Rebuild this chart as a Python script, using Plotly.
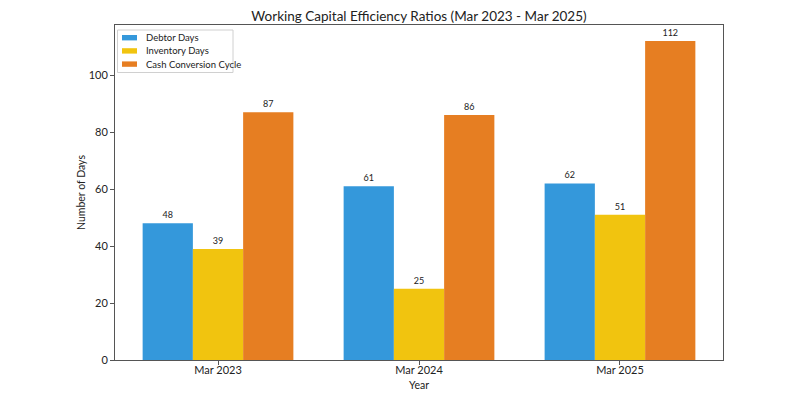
import plotly.graph_objects as go

years = ["Mar 2023", "Mar 2024", "Mar 2025"]
debtor_days = [48, 61, 62]
inventory_days = [39, 25, 51]
ccc_days = [87, 86, 112]

series = [
    ("Debtor Days", debtor_days, "#3498db"),
    ("Inventory Days", inventory_days, "#f1c40f"),
    ("Cash Conversion Cycle", ccc_days, "#e67e22"),
]

fig = go.Figure()
for name, vals, color in series:
    fig.add_trace(go.Bar(
        x=list(range(len(years))), y=vals, name=name,
        marker=dict(color=color, line=dict(width=0)),
        text=[str(v) for v in vals], textposition="outside",
        textfont=dict(size=9, color="#222"), cliponaxis=False,
        showlegend=False,
    ))

font = "Lato, Roboto, sans-serif"
fig.update_layout(
    width=800, height=400,
    margin=dict(l=115, r=77, t=25, b=40, autoexpand=False),
    paper_bgcolor="white", plot_bgcolor="white",
    font=dict(family=font, color="#222"),
    barmode="group", bargap=0.25, bargroupgap=0,
    title=dict(text="Working Capital Efficiency Ratios (Mar 2023 - Mar 2025)",
               x=0.5, xref="paper", xanchor="center", y=0.96, yref="container",
               yanchor="middle", font=dict(size=13.5, color="#222")),
)

# compact legend box drawn in paper coordinates (matplotlib-style)
PW, PH = 800 - 115 - 77, 400 - 25 - 40
def px(x):
    return (x - 115) / PW
def py(y):
    return 1 - (y - 25) / PH

fig.add_shape(type="rect", xref="paper", yref="paper",
              x0=px(117.5), x1=px(233), y0=py(30), y1=py(72.5),
              line=dict(color="#d0d0d0", width=1), fillcolor="white", layer="above")
for i, (name, vals, color) in enumerate(series):
    cy = 37.7 + i * 13.2
    fig.add_shape(type="rect", xref="paper", yref="paper",
                  x0=px(122), x1=px(137), y0=py(cy - 2.7), y1=py(cy + 2.7),
                  line=dict(width=0), fillcolor=color, layer="above")
    fig.add_annotation(x=px(144), y=py(cy), xref="paper", yref="paper",
                       text=name, showarrow=False, xanchor="left", yanchor="middle",
                       font=dict(size=9.5, color="#222"))

fig.update_xaxes(
    range=[-0.5125, 2.5125], tickmode="array", tickvals=list(range(len(years))),
    ticktext=years, ticks="outside", ticklen=4, tickcolor="#555",
    ticklabelstandoff=-4,
    showline=True, linecolor="#555", linewidth=1, mirror=True, automargin=False,
    showgrid=False, zeroline=False, tickfont=dict(size=11),
    title=dict(text="Year", font=dict(size=10.5), standoff=6),
)
fig.update_yaxes(
    range=[0, 117.6], tickvals=[0, 20, 40, 60, 80, 100],
    ticks="outside", ticklen=4, tickcolor="#555", automargin=False,
    showline=True, linecolor="#555", linewidth=1, mirror=True,
    showgrid=False, zeroline=False, tickfont=dict(size=11),
    title=dict(text="Number of Days", font=dict(size=10.5), standoff=0),
)
fig.write_html("out.html")
